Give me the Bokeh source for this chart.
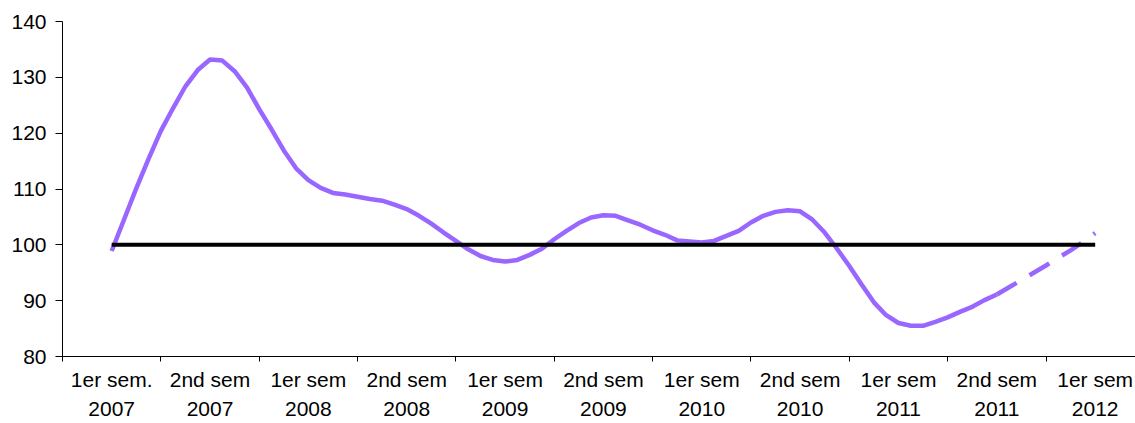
import numpy as np
from bokeh.plotting import figure
from bokeh.models import FixedTicker, Range1d, ColumnDataSource
from bokeh.embed import file_html
from bokeh.resources import INLINE

# ---- data -------------------------------------------------------------
categories = [
    "1er sem.\n2007", "2nd sem\n2007", "1er sem\n2008", "2nd sem\n2008",
    "1er sem\n2009", "2nd sem\n2009", "1er sem\n2010", "2nd sem\n2010",
    "1er sem\n2011", "2nd sem\n2011", "1er sem\n2012",
]
points_per_semester = 8          # readings per semester along the curve
index_values = [
    98.9, 104.5, 110.1, 115.4, 120.4, 124.5, 128.4, 131.3,      # 1er sem 2007
    133.2, 133.0, 131.1, 128.2, 124.3, 120.7, 116.9, 113.7,     # 2nd sem 2007
    111.6, 110.2, 109.3, 109.0, 108.6, 108.2, 107.9, 107.2,     # 1er sem 2008
    106.4, 105.2, 103.8, 102.2, 100.7, 99.2, 98.0, 97.3,        # 2nd sem 2008
    97.0, 97.3, 98.2, 99.3, 101.0, 102.5, 103.9, 104.9,         # 1er sem 2009
    105.3, 105.2, 104.4, 103.6, 102.6, 101.8, 100.8, 100.6,     # 2nd sem 2009
    100.4, 100.7, 101.6, 102.5, 104.0, 105.2, 105.9, 106.2,     # 1er sem 2010
    106.0, 104.5, 102.2, 99.3, 96.2, 92.9, 89.7, 87.4,          # 2nd sem 2010
    86.0, 85.5, 85.5, 86.2, 87.0, 88.0, 88.9, 90.1,             # 1er sem 2011
    91.1, 92.4, 93.7, 95.0, 96.3, 97.7, 99.0, 100.5,            # 2nd sem 2011
    102.1,                                                      # 1er sem 2012
]
forecast_start_category = 9      # dashed (forecast) from 2nd sem 2011 on
reference_level = 100
y_ticks = [80, 90, 100, 110, 120, 130, 140]

# ---- build ------------------------------------------------------------
n = len(index_values)
xs = np.arange(n) / points_per_semester
split = forecast_start_category * points_per_semester
solid = ColumnDataSource(dict(x=xs[: split + 1], y=index_values[: split + 1]))
dashed = ColumnDataSource(dict(x=xs[split:], y=index_values[split:]))

FONT = "Liberation Sans"
PURPLE = "#9966FF"

p = figure(
    width=1135, height=423,
    output_backend="svg", toolbar_location=None,
    x_range=Range1d(-0.5, 10.41), y_range=Range1d(y_ticks[0], y_ticks[-1]),
    min_border_left=62, min_border_top=21, min_border_right=0,
    min_border_bottom=60,
)
p.xgrid.visible = False
p.ygrid.visible = False
p.outline_line_color = None
p.background_fill_color = "white"
p.border_fill_color = "white"

p.line("x", "y", source=solid, line_color=PURPLE, line_width=4.5)
p.line("x", "y", source=dashed, line_color=PURPLE, line_width=4.5,
       line_dash="23 15")
p.line(x=[0, len(categories) - 1], y=[reference_level, reference_level],
       line_color="black", line_width=4)

xa = p.xaxis[0]
xa.ticker = FixedTicker(ticks=list(range(len(categories))),
                        minor_ticks=[i - 0.5 for i in range(len(categories) + 1)])
xa.major_label_overrides = {i: c for i, c in enumerate(categories)}
xa.major_tick_in = 0
xa.major_tick_out = 0
xa.minor_tick_in = 0
xa.minor_tick_out = 5
xa.minor_tick_line_color = "black"
xa.axis_line_color = "black"
xa.major_label_text_font = FONT
xa.major_label_text_font_size = "21px"
xa.major_label_text_color = "black"
xa.major_label_text_line_height = 1.3
xa.major_label_standoff = 6

ya = p.yaxis[0]
ya.ticker = FixedTicker(ticks=y_ticks)
ya.major_tick_in = 0
ya.major_tick_out = 7
ya.minor_tick_line_color = None
ya.major_tick_line_color = "black"
ya.axis_line_color = "black"
ya.major_label_text_font = FONT
ya.major_label_text_font_size = "21px"
ya.major_label_text_color = "black"
ya.major_label_standoff = 9

open("out.html", "w").write(file_html(p, INLINE))
